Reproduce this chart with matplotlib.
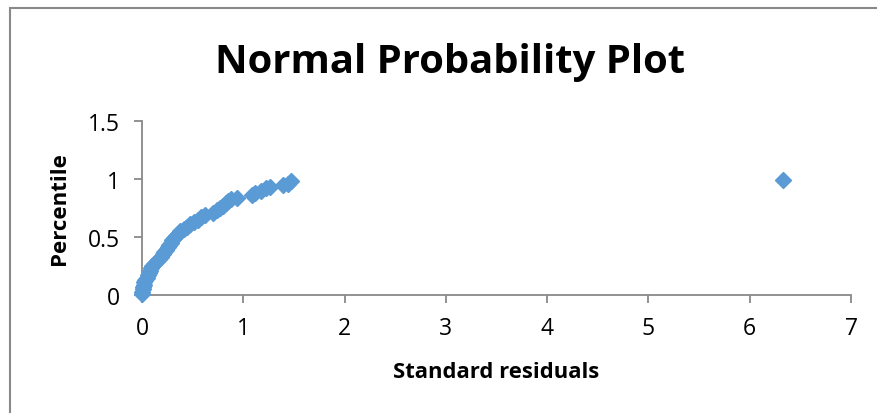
import matplotlib
matplotlib.use('Agg')
import matplotlib.pyplot as plt
from matplotlib.patches import Rectangle

# standard residuals against their percentile, sorted
residuals = [
    0.00, 0.00, 0.01, 0.01, 0.02, 0.02, 0.03, 0.05, 0.06, 0.07,
    0.08, 0.09, 0.10, 0.12, 0.15, 0.17, 0.19, 0.21, 0.22, 0.24,
    0.26, 0.27, 0.29, 0.30, 0.32, 0.34, 0.36, 0.38, 0.41, 0.44,
    0.47, 0.51, 0.55, 0.58, 0.62, 0.70, 0.74, 0.77, 0.80, 0.83,
    0.85, 0.88, 0.94, 1.09, 1.12, 1.17, 1.22, 1.26, 1.39, 1.44,
    1.47, 6.33,
]
percentiles = [
    0.01, 0.03, 0.05, 0.07, 0.09, 0.11, 0.13, 0.15, 0.17, 0.19,
    0.21, 0.23, 0.25, 0.27, 0.29, 0.31, 0.33, 0.35, 0.37, 0.39,
    0.41, 0.43, 0.45, 0.47, 0.49, 0.51, 0.53, 0.55, 0.57, 0.59,
    0.61, 0.63, 0.65, 0.67, 0.69, 0.71, 0.73, 0.75, 0.77, 0.79,
    0.81, 0.83, 0.84, 0.86, 0.88, 0.90, 0.92, 0.93, 0.95, 0.96,
    0.98, 0.99,
]
x_ticks = [0, 1, 2, 3, 4, 5, 6, 7]
y_ticks = [0, 0.5, 1, 1.5]

plt.rcParams['font.family'] = ['Open Sans', 'DejaVu Sans']
GRAY = '#898989'
BLUE = '#5B9BD5'

fig = plt.figure(figsize=(8.77, 4.14), dpi=100)
ax = fig.add_axes([142 / 877, 118 / 414, 709 / 877, 174 / 414])

# chart area border (only top and left edges are in frame)
fig.add_artist(Rectangle((10 / 877, -0.1), 1.2, (414 - 9) / 414 + 0.1,
                         transform=fig.transFigure, fill=False,
                         edgecolor=GRAY, lw=1.5))

ax.plot(residuals, percentiles, ls='', marker='D', ms=8,
        color=BLUE, mec=BLUE, clip_on=False, zorder=3)

ax.set_xlim(0, 7)
ax.set_ylim(0, 1.5)
ax.set_xticks(x_ticks)
ax.set_yticks(y_ticks)
ax.set_xticklabels([str(v) for v in x_ticks])
ax.set_yticklabels(['0', '0.5', '1', '1.5'])

for side in ('top', 'right'):
    ax.spines[side].set_visible(False)
for side in ('left', 'bottom'):
    ax.spines[side].set_color(GRAY)
    ax.spines[side].set_linewidth(1.3)
ax.tick_params(axis='both', direction='out', length=6, width=1.3,
               color=GRAY, labelsize=16.5, labelcolor='black')
ax.tick_params(axis='x', pad=9)
ax.tick_params(axis='y', pad=10)

ax.set_xlabel('Standard residuals', fontsize=15.8, fontweight='bold',
              va='center')
ax.xaxis.set_label_coords(0.5, -0.4425)
ax.set_ylabel('Percentile', fontsize=16, fontweight='bold', va='center')
ax.yaxis.set_label_coords(-0.1157, 0.5)

fig.text(450 / 877, 1 - 62 / 414, 'Normal Probability Plot',
         ha='center', va='center', fontsize=28.8, fontweight='bold')

fig.savefig('out.png', dpi=100, facecolor='white')
